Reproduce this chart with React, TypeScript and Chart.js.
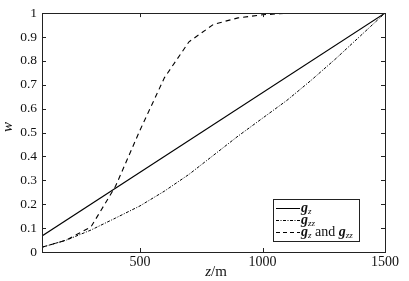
import React, { useEffect, useRef } from "react";
import { Chart, registerables } from "chart.js";
Chart.register(...registerables);

const zSolid = [100, 1500];
const wSolid = [0.067, 1.0];

const zDashDot = [100, 200, 300, 400, 500, 600, 700, 800, 900, 1000, 1100, 1200, 1300, 1400, 1500];
const wDashDot = [0.02, 0.05, 0.092, 0.142, 0.193, 0.255, 0.325, 0.405, 0.485, 0.56, 0.635, 0.72, 0.81, 0.905, 1.0];

const zDashed = [100, 200, 300, 400, 500, 600, 700, 800, 900, 1000, 1100, 1200, 1300, 1400, 1500];
const wDashed = [0.02, 0.05, 0.105, 0.275, 0.51, 0.73, 0.88, 0.953, 0.98, 0.993, 0.999, 1.0, 1.0, 1.0, 1.0];

const xTicks = [500, 1000, 1500];
const yTicks = [0, 0.1, 0.2, 0.3, 0.4, 0.5, 0.6, 0.7, 0.8, 0.9, 1];

const FONT = "Liberation Serif, Times New Roman, Times, serif";

const pts = (xs: number[], ys: number[]) => xs.map((x, i) => ({ x, y: ys[i] }));

const decorPlugin = {
  id: "decor",
  afterDraw(chart: any) {
    const ctx = chart.ctx;
    const { left, right, top, bottom } = chart.chartArea;
    const xs = chart.scales.x;
    const ys = chart.scales.y;
    ctx.save();
    ctx.strokeStyle = "#222";
    ctx.lineWidth = 1;
    ctx.strokeRect(Math.round(left) + 0.5, Math.round(top) + 0.5, Math.round(right - left), Math.round(bottom - top));
    const tl = 4;
    ctx.beginPath();
    xTicks.forEach((v) => {
      const px = Math.round(xs.getPixelForValue(v)) + 0.5;
      ctx.moveTo(px, bottom);
      ctx.lineTo(px, bottom - tl);
      ctx.moveTo(px, top);
      ctx.lineTo(px, top + tl);
    });
    yTicks.forEach((v) => {
      const py = Math.round(ys.getPixelForValue(v)) + 0.5;
      ctx.moveTo(left, py);
      ctx.lineTo(left + tl, py);
      ctx.moveTo(right, py);
      ctx.lineTo(right - tl, py);
    });
    ctx.stroke();

    // axis titles
    ctx.fillStyle = "#111";
    ctx.textBaseline = "middle";
    ctx.font = `italic 15px ${FONT}`;
    const zW = ctx.measureText("z").width;
    ctx.font = `15px ${FONT}`;
    const mW = ctx.measureText("/m").width;
    const cx = 216;
    const sx = cx - (zW + mW) / 2;
    ctx.textAlign = "left";
    ctx.font = `italic 15px ${FONT}`;
    ctx.fillText("z", sx, 272);
    ctx.font = `15px ${FONT}`;
    ctx.fillText("/m", sx + zW, 272);

    ctx.save();
    ctx.translate(8, 127);
    ctx.rotate(-Math.PI / 2);
    ctx.textAlign = "center";
    ctx.font = `italic 15px ${FONT}`;
    ctx.fillText("w", 0, 0);
    ctx.restore();

    // legend
    const bx = 273.5, by = 199.5, bw = 86, bh = 42;
    ctx.fillStyle = "#fff";
    ctx.fillRect(bx, by, bw, bh);
    ctx.strokeStyle = "#222";
    ctx.strokeRect(bx, by, bw, bh);
    const rows = [
      { y: 208.5, dash: [] as number[], label: [["g", "z"]] },
      { y: 220.5, dash: [3, 1.5, 1, 1.5], label: [["g", "zz"]] },
      { y: 232.5, dash: [4, 3], label: [["g", "z"], " and ", ["g", "zz"]] },
    ];
    rows.forEach((r) => {
      ctx.beginPath();
      ctx.setLineDash(r.dash);
      ctx.strokeStyle = "#000";
      ctx.moveTo(276, r.y);
      ctx.lineTo(300, r.y);
      ctx.stroke();
      ctx.setLineDash([]);
      let x = 301;
      ctx.fillStyle = "#111";
      ctx.textAlign = "left";
      ctx.textBaseline = "alphabetic";
      (r.label as any[]).forEach((part) => {
        if (typeof part === "string") {
          ctx.font = `14px ${FONT}`;
          ctx.fillText(part, x, r.y + 3);
          x += ctx.measureText(part).width;
        } else {
          ctx.font = `bold italic 14px ${FONT}`;
          ctx.fillText(part[0], x, r.y + 3);
          x += ctx.measureText(part[0]).width;
          ctx.font = `italic 9px ${FONT}`;
          ctx.fillText(part[1], x, r.y + 5);
          x += ctx.measureText(part[1]).width;
        }
      });
    });
    ctx.restore();
  },
};

export default function App() {
  const ref = useRef<HTMLCanvasElement>(null);
  useEffect(() => {
    document.body.style.margin = "0";
    const chart = new Chart(ref.current!, {
      type: "line",
      data: {
        datasets: [
          {
            label: "gz",
            data: pts(zSolid, wSolid),
            borderColor: "#000",
            borderWidth: 1.1,
            pointRadius: 0,
            tension: 0,
          },
          {
            label: "gzz",
            data: pts(zDashDot, wDashDot),
            borderColor: "#000",
            borderWidth: 1,
            borderDash: [3, 1.5, 1, 1.5],
            pointRadius: 0,
            tension: 0,
          },
          {
            label: "gz and gzz",
            data: pts(zDashed, wDashed),
            borderColor: "#000",
            borderWidth: 1.1,
            borderDash: [5, 4],
            pointRadius: 0,
            tension: 0,
          },
        ],
      },
      options: {
        animation: false,
        responsive: false,
        layout: { padding: { left: 0, top: 12, right: 24, bottom: 0 } },
        plugins: { legend: { display: false }, tooltip: { enabled: false } },
        scales: {
          x: {
            type: "linear",
            min: 100,
            max: 1500,
            afterBuildTicks: (s: any) => {
              s.ticks = xTicks.map((v) => ({ value: v }));
            },
            afterFit: (s: any) => {
              s.height = 29;
            },
            grid: { display: false, drawTicks: false },
            border: { display: false },
            ticks: {
              color: "#111",
              font: { family: FONT, size: 14 },
              padding: 2,
              maxRotation: 0,
              autoSkip: false,
              callback: (v: any) => String(v),
            },
          },
          y: {
            type: "linear",
            min: 0,
            max: 1,
            afterBuildTicks: (s: any) => {
              s.ticks = yTicks.map((v) => ({ value: v }));
            },
            afterFit: (s: any) => {
              s.width = 42;
            },
            grid: { display: false, drawTicks: false },
            border: { display: false },
            ticks: {
              color: "#111",
              font: { family: FONT, size: 13.5 },
              padding: 5,
              callback: (v: any) => String(Math.round(Number(v) * 10) / 10),
            },
          },
        },
      },
      plugins: [decorPlugin],
    });
    return () => chart.destroy();
  }, []);
  return (
    <div style={{ position: "absolute", left: 0, top: 0, width: 409, height: 281 }}>
      <canvas ref={ref} width={409} height={281} style={{ display: "block" }} />
    </div>
  );
}
